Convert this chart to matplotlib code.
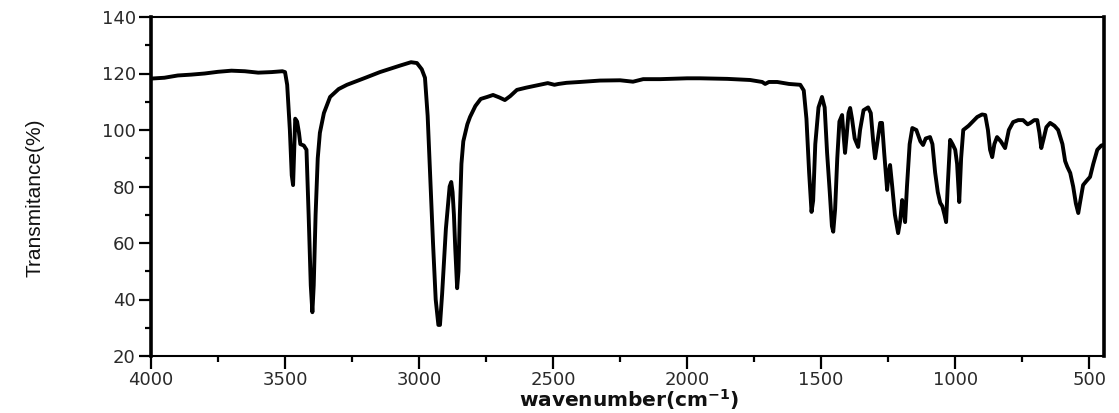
import matplotlib
matplotlib.use('Agg')
import matplotlib.pyplot as plt
from matplotlib.ticker import MultipleLocator
from matplotlib import font_manager

# FTIR spectrum
wavenumber = [
	4000, 3950, 3900, 3850, 3800, 3750, 3700, 3650, 3600, 3550, 3510, 3500,
	3492, 3482, 3475, 3470, 3466, 3462, 3455, 3448, 3443, 3430, 3420, 3412,
	3404, 3398, 3393, 3386, 3378, 3370, 3355, 3332, 3300, 3269, 3200, 3146,
	3071, 3030, 3008, 2990, 2978, 2968, 2959, 2948, 2938, 2928, 2922, 2914,
	2900, 2886, 2880, 2875, 2870, 2865, 2858, 2853, 2848, 2842, 2835, 2820,
	2810, 2790, 2770, 2746, 2724, 2700, 2680, 2660, 2635, 2600, 2550, 2520,
	2495, 2480, 2450, 2400, 2325, 2250, 2202, 2164, 2100, 2000, 1952, 1850,
	1765, 1720, 1709, 1695, 1664, 1620, 1578, 1565, 1555, 1545, 1536, 1530,
	1522, 1510, 1497, 1487, 1478, 1468, 1460, 1455, 1448, 1440, 1432, 1422,
	1418, 1411, 1405, 1398, 1392, 1385, 1375, 1362, 1355, 1342, 1325, 1315,
	1306, 1299, 1290, 1280, 1273, 1265, 1254, 1248, 1243, 1235, 1225, 1213,
	1205, 1198, 1192, 1187, 1180, 1170, 1160, 1145, 1130, 1120, 1110, 1094,
	1085, 1075, 1065, 1056, 1048, 1040, 1034, 1028, 1019, 1010, 1000, 993,
	985, 978, 970, 950, 918, 900, 888, 878, 870, 862, 854, 844,
	830, 814, 800, 784, 765, 747, 730, 720, 705, 694, 686, 679,
	670, 660, 646, 630, 616, 600, 590, 582, 571, 560, 550, 541,
	535, 523, 510, 497, 485, 470, 455, 448,
]
transmittance = [
	118.2, 118.5, 119.3, 119.6, 120.0, 120.6, 121.0, 120.8, 120.3, 120.5, 120.8, 120.5,
	116.0, 100.0, 84.0, 80.5, 92.0, 104.0, 103.0, 99.0, 95.0, 94.5, 93.0, 70.0,
	45.0, 35.5, 45.0, 70.0, 90.0, 99.0, 106.0, 111.7, 114.5, 116.0, 118.5, 120.5,
	122.8, 124.0, 123.7, 121.5, 118.5, 105.0, 85.0, 60.0, 40.0, 31.0, 31.0, 42.0,
	65.0, 80.0, 81.6, 78.0, 70.0, 58.0, 44.0, 50.0, 70.0, 88.0, 96.0, 102.0,
	104.6, 108.5, 111.0, 111.7, 112.4, 111.5, 110.6, 112.0, 114.2, 115.0, 116.0, 116.6,
	116.0, 116.3, 116.7, 117.0, 117.5, 117.6, 117.1, 118.0, 118.0, 118.3, 118.3, 118.1,
	117.7, 117.0, 116.3, 117.0, 117.0, 116.3, 116.0, 114.0, 104.0, 85.0, 71.0, 75.0,
	95.0, 108.0, 111.7, 108.0, 92.0, 78.0, 66.0, 64.0, 72.0, 90.0, 103.0, 105.3,
	100.0, 91.9, 98.0, 106.0, 107.8, 104.0, 97.0, 94.0, 100.0, 107.0, 108.0, 106.0,
	96.0, 90.0, 96.0, 102.5, 102.5, 92.0, 78.8, 85.0, 87.6, 80.0, 70.0, 63.5,
	68.0, 75.2, 72.0, 67.4, 80.0, 95.0, 100.7, 100.0, 96.0, 94.7, 97.0, 97.5,
	95.0, 85.0, 78.0, 74.2, 73.0, 70.0, 67.4, 80.0, 96.5, 95.0, 93.0, 88.0,
	74.5, 90.0, 100.0, 101.5, 104.6, 105.5, 105.3, 100.0, 93.0, 90.4, 95.0, 97.5,
	96.0, 93.6, 100.0, 102.8, 103.5, 103.5, 102.0, 102.5, 103.5, 103.5, 99.0, 93.6,
	97.0, 101.0, 102.5, 101.5, 100.0, 95.0, 89.0, 87.0, 84.8, 80.0, 74.0, 70.6,
	74.0, 80.5, 82.0, 83.4, 88.0, 93.0, 94.5, 94.7,
]

# a narrow face for the y label if one is installed
installed = {f.name for f in font_manager.fontManager.ttflist}
ylabel_font = "Liberation Sans"
for name in ("Liberation Sans Narrow", "DejaVu Sans Condensed"):
	if name in installed:
		ylabel_font = name
		break

fig = plt.figure(figsize=(11.19, 4.13), dpi=100)
ax = fig.add_axes([151 / 1119, 1 - 356 / 413, (1104 - 151) / 1119, (356 - 17) / 413])

ax.plot(wavenumber, transmittance, color="black", lw=2.8, solid_joinstyle="round")

ax.set_xlim(4000, 445)
ax.set_ylim(20, 140)
ax.xaxis.set_major_locator(MultipleLocator(500))
ax.xaxis.set_minor_locator(MultipleLocator(250))
ax.yaxis.set_major_locator(MultipleLocator(20))
ax.yaxis.set_minor_locator(MultipleLocator(10))

for side in ("left", "right"):
	ax.spines[side].set_linewidth(2.6)
for side in ("top", "bottom"):
	ax.spines[side].set_linewidth(1.5)

ax.tick_params(which="major", direction="out", length=9, width=1.6, pad=2,
	labelsize=13, labelcolor="#2a2a2a")
ax.tick_params(which="minor", direction="out", length=4.5, width=1.6)
for lbl in ax.get_xticklabels() + ax.get_yticklabels():
	lbl.set_family("DejaVu Sans")

ax.set_ylabel("Transmitance(%)", family=ylabel_font, fontsize=15,
	fontweight="medium", color="#111111", va="bottom")
ax.yaxis.set_label_coords(-0.112, 0.466)
ax.set_xlabel("wavenumber(cm$^{\\mathbf{-1}}$)", family="DejaVu Sans", fontweight="bold",
	fontsize=14.5, color="#111111", va="top")
ax.xaxis.set_label_coords(0.502, -0.092)

fig.savefig("out.png", dpi=100)
